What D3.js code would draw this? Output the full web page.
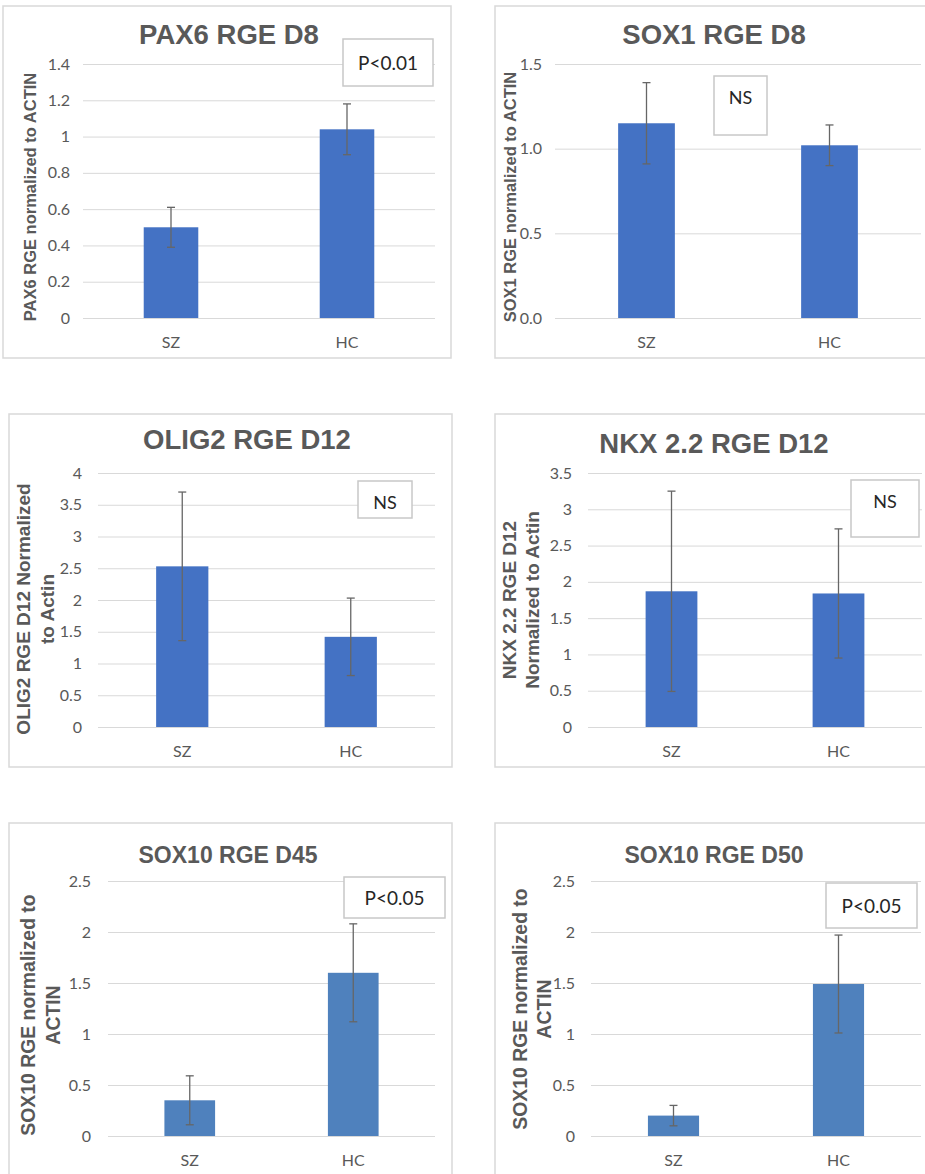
<!DOCTYPE html>
<html>
<head>
<meta charset="utf-8">
<script src="https://cdn.jsdelivr.net/npm/d3@7"></script>
<style>
  body { margin: 0; background: #fff; }
  svg { display: block; }
</style>
</head>
<body>
<div id="chart_div"></div>
<script>
// values
var titles = ['PAX6 RGE D8', 'SOX1 RGE D8', 'OLIG2 RGE D12', 'NKX 2.2 RGE D12', 'SOX10 RGE D45', 'SOX10 RGE D50']
var yLabels = [
  ['PAX6 RGE normalized to ACTIN'],
  ['SOX1 RGE normalized to ACTIN'],
  ['OLIG2 RGE D12 Normalized', 'to Actin'],
  ['NKX 2.2 RGE D12', 'Normalized to Actin'],
  ['SOX10 RGE normalized to', 'ACTIN'],
  ['SOX10 RGE normalized to', 'ACTIN']
]
var categories = ['SZ', 'HC']
var means = [[0.50, 1.04], [1.15, 1.02], [2.53, 1.42], [1.87, 1.84], [0.35, 1.60], [0.20, 1.49]]
var errors = [[0.11, 0.14], [0.24, 0.12], [1.17, 0.61], [1.38, 0.89], [0.24, 0.48], [0.10, 0.48]]
var yTicks = [
  [0, 0.2, 0.4, 0.6, 0.8, 1, 1.2, 1.4],
  [0, 0.5, 1, 1.5],
  [0, 0.5, 1, 1.5, 2, 2.5, 3, 3.5, 4],
  [0, 0.5, 1, 1.5, 2, 2.5, 3, 3.5],
  [0, 0.5, 1, 1.5, 2, 2.5],
  [0, 0.5, 1, 1.5, 2, 2.5]
]
var tickFormats = ['~g', '.1f', '~g', '~g', '~g', '~g']
var notes = ['P<0.01', 'NS', 'NS', 'NS', 'P<0.05', 'P<0.05']

// panel placement on the page
var layout = [
  {frame: [3, 6, 448, 352], plot: [83, 64, 435, 318], title: [229, 44, 27.5], ylab: [[30], 197, 16.5], box: [343, 39, 90, 47], pad: 13, color: '#4472c4'},
  {frame: [495, 6, 460, 352], plot: [555, 64, 921, 318], title: [714, 44, 27.5], ylab: [[510], 197, 16.5], box: [714, 76, 53, 59], pad: 13, color: '#4472c4'},
  {frame: [9, 414, 443, 353], plot: [98, 473, 435, 727], title: [247, 449, 27.5], ylab: [[23, 47], 609, 19], box: [358, 481, 54, 37], pad: 16, color: '#4472c4'},
  {frame: [495, 414, 460, 353], plot: [588, 473, 922, 727], title: [714, 453, 27.5], ylab: [[509, 532], 600, 19], box: [851, 480, 68, 57], pad: 16, color: '#4472c4'},
  {frame: [9, 823, 443, 400], plot: [108, 881, 435, 1136], title: [228, 863, 23], ylab: [[28, 53], 1015, 19.4], box: [344, 877, 101, 41], pad: 17, color: '#4f81bd'},
  {frame: [495, 823, 460, 400], plot: [591, 881, 921, 1136], title: [714, 863, 23], ylab: [[520, 544], 1009, 19.4], box: [826, 883, 91, 45], pad: 16, color: '#4f81bd'}
]

var svg = d3.select('#chart_div').append('svg')
  .attr('width', 925)
  .attr('height', 1174)

var grey = '#595959'

_draw_all()

function _draw_all(){
  layout.forEach(function(L, i){
    var g = svg.append('g').attr('class', 'panel' + i)

    // outer frame
    g.append('rect')
      .attr('x', L.frame[0]).attr('y', L.frame[1])
      .attr('width', L.frame[2]).attr('height', L.frame[3])
      .style('fill', '#fff')
      .style('stroke', '#d9d9d9')
      .style('stroke-width', '1.5px')

    var x = d3.scaleBand().domain(categories)
      .range([L.plot[0], L.plot[2]])
      .paddingInner(0.69).paddingOuter(0.345)
    var y = d3.scaleLinear().domain([0, d3.max(yTicks[i])]).range([L.plot[3], L.plot[1]])

    // gridlines + y ticks
    var yAxis = g.append('g')
      .attr('class', 'yaxis')
      .attr('transform', 'translate(' + L.plot[0] + ',0)')
      .call(d3.axisLeft(y).tickValues(yTicks[i]).tickFormat(d3.format(tickFormats[i]))
        .tickSize(-(L.plot[2] - L.plot[0])).tickPadding(L.pad))
    yAxis.select('path.domain').remove()
    yAxis.selectAll('line').style('stroke', '#d9d9d9').style('stroke-width', '1px')
    yAxis.selectAll('text')
      .style('fill', grey)
      .style('font-family', 'Lato, "Open Sans", sans-serif')
      .style('font-size', '16px')

    // x labels
    var xAxis = g.append('g')
      .attr('class', 'xaxis')
      .attr('transform', 'translate(0,' + L.plot[3] + ')')
      .call(d3.axisBottom(x).tickSize(0).tickPadding(19))
    xAxis.select('path.domain').remove()
    xAxis.selectAll('text')
      .style('fill', grey)
      .style('font-family', 'Lato, "Open Sans", sans-serif')
      .style('font-size', '16px')

    var rows = categories.map(function(c, j){ return {cat: c, m: means[i][j], e: errors[i][j]} })

    g.selectAll('rect.bar')
      .data(rows)
      .enter().append('rect')
      .attr('class', 'bar')
      .attr('x', function(d){ return x(d.cat) })
      .attr('width', x.bandwidth())
      .attr('y', function(d){ return y(d.m) })
      .attr('height', function(d){ return y(0) - y(d.m) })
      .style('fill', L.color)

    // error bars
    var eb = g.selectAll('g.err')
      .data(rows)
      .enter().append('g')
      .attr('class', 'err')
      .style('stroke', '#666')
      .style('stroke-width', '1.3px')
    eb.append('line')
      .attr('x1', function(d){ return x(d.cat) + x.bandwidth()/2 })
      .attr('x2', function(d){ return x(d.cat) + x.bandwidth()/2 })
      .attr('y1', function(d){ return y(d.m + d.e) })
      .attr('y2', function(d){ return y(d.m - d.e) })
    ;[1, -1].forEach(function(s){
      eb.append('line')
        .attr('x1', function(d){ return x(d.cat) + x.bandwidth()/2 - 4 })
        .attr('x2', function(d){ return x(d.cat) + x.bandwidth()/2 + 4 })
        .attr('y1', function(d){ return y(d.m + s*d.e) })
        .attr('y2', function(d){ return y(d.m + s*d.e) })
    })

    // title
    g.append('text')
      .attr('x', L.title[0]).attr('y', L.title[1])
      .attr('text-anchor', 'middle')
      .style('font-family', '"Liberation Sans", Arial, sans-serif')
      .style('font-weight', 'bold')
      .style('font-size', L.title[2] + 'px')
      .style('fill', grey)
      .text(titles[i])

    // y axis title, one text per line
    yLabels[i].forEach(function(line, k){
      g.append('text')
        .attr('transform', 'translate(' + L.ylab[0][k] + ',' + L.ylab[1] + ') rotate(-90)')
        .attr('text-anchor', 'middle')
        .attr('dominant-baseline', 'central')
        .style('font-family', '"Liberation Sans", Arial, sans-serif')
        .style('font-weight', 'bold')
        .style('font-size', L.ylab[2] + 'px')
        .style('fill', grey)
        .text(line)
    })

    // significance box
    g.append('rect')
      .attr('x', L.box[0]).attr('y', L.box[1])
      .attr('width', L.box[2]).attr('height', L.box[3])
      .style('fill', '#fff')
      .style('stroke', '#c8c8c8')
      .style('stroke-width', '1.5px')
    g.append('text')
      .attr('x', L.box[0] + L.box[2]/2)
      .attr('y', notes[i] == 'NS' ? L.box[1] + 21 : L.box[1] + L.box[3]/2)
      .attr('text-anchor', 'middle')
      .attr('dominant-baseline', 'central')
      .style('font-family', 'Lato, "Open Sans", sans-serif')
      .style('font-size', notes[i] == 'NS' ? '18px' : '19px')
      .style('fill', '#262626')
      .text(notes[i])
  })
}
</script>
</body>
</html>
